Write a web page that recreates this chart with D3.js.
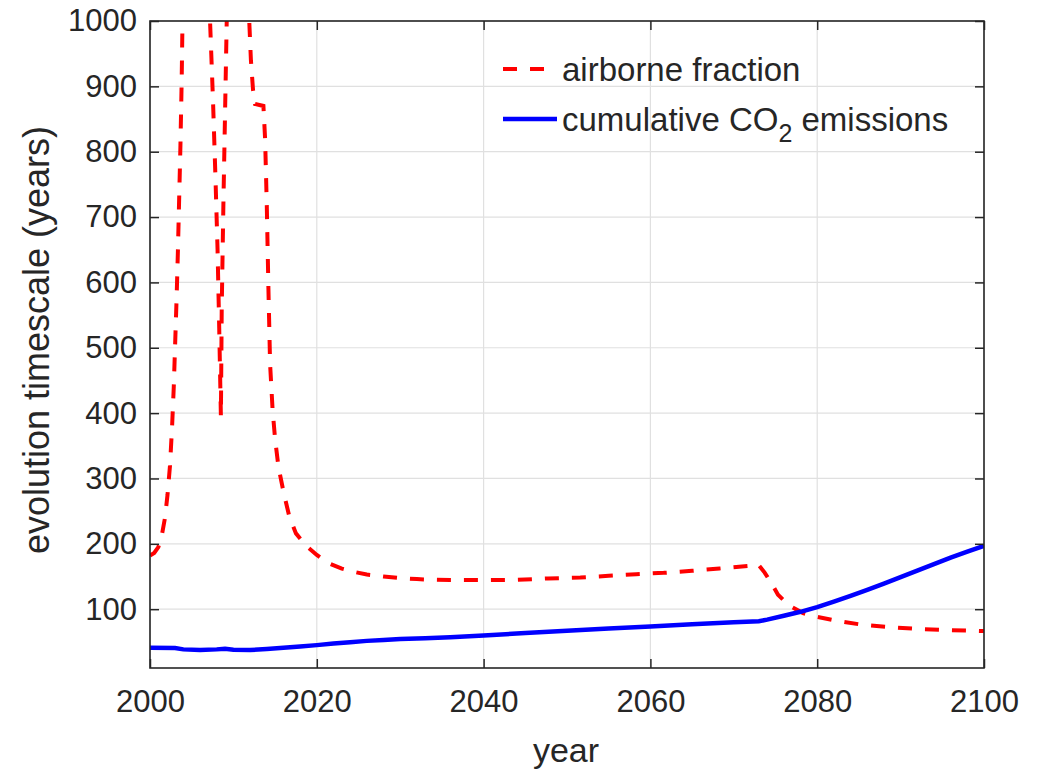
<!DOCTYPE html>
<html>
<head>
<meta charset="utf-8">
<script src="https://cdn.jsdelivr.net/npm/d3@7/dist/d3.min.js"></script>
<style>
  html, body { margin: 0; padding: 0; background: #fff; }
  svg { display: block; }
  text { font-family: "Liberation Sans", Arial, Helvetica, sans-serif; fill: #262626; }
</style>
</head>
<body>
<svg id="chart" width="1043" height="772"></svg>
<script>
// Evolution timescale of the airborne fraction (dashed) and cumulative CO2 emissions (solid)
const airborneYears = [
  2000.0, 2000.5, 2001.0, 2001.4, 2001.8, 2002.1, 2002.4, 2002.65, 2002.85, 2003.0,
  2003.2, 2003.35, 2003.5, 2003.65, 2003.8, 2003.95, 2004.3, 2005.0, 2006.0, 2006.7,
  2007.0, 2007.2, 2007.55, 2007.85, 2008.1, 2008.3, 2008.5, 2008.6, 2008.8, 2009.0,
  2009.2, 2009.4, 2010.0, 2011.0, 2011.6, 2011.9, 2012.1, 2012.35, 2012.6, 2013.6,
  2013.8, 2014.0, 2014.2, 2014.4, 2014.7, 2015.0, 2015.4, 2016.0, 2016.7, 2017.5,
  2018.8, 2020.0, 2021.3, 2023.0, 2024.5, 2026.0, 2028.0, 2030.0, 2032.0, 2034.0,
  2036.0, 2040.0, 2044.0, 2047.7, 2051.6, 2055.0, 2058.3, 2061.6, 2065.0, 2068.3,
  2071.7, 2072.9, 2073.7, 2074.5, 2075.3, 2076.7, 2078.3, 2079.7, 2082.0, 2085.5,
  2088.7, 2092.3, 2095.7, 2100.0
];
const airborneTimescale = [
  182, 186, 195, 212, 240, 275, 320, 380, 440, 500,
  580, 650, 730, 810, 910, 1050, 1500, 2500, 2500, 1500,
  1150, 1000, 880, 760, 650, 530, 395, 560, 720, 860,
  1000, 1300, 2000, 2000, 1300, 1000, 940, 895, 873, 870,
  820, 720, 590, 475, 405, 360, 318, 280, 242, 216,
  196, 183, 171, 162, 157, 153, 150, 147.5, 146, 145,
  144.5, 144.5, 145, 147, 148.5, 151, 153.6, 155.6, 158.7, 162.3,
  166.3, 169, 156, 140, 122, 105, 94, 89, 83, 76,
  72.5, 69.5, 68, 66.5
];

const emissionsYears = [
  2000, 2003, 2004, 2006, 2008, 2009, 2010, 2012, 2014, 2016,
  2018, 2020, 2022, 2024, 2026, 2028, 2030, 2033, 2036, 2040,
  2045, 2050, 2055, 2060, 2065, 2070, 2073, 2074, 2076, 2078,
  2080, 2082, 2084, 2086, 2088, 2090, 2092, 2094, 2096, 2098, 2100
];
const emissionsTimescale = [
  41, 40.5, 38.5, 37.5, 38.5, 39.5, 38, 37.5, 39, 41,
  43, 45, 47.5, 49.5, 51.5, 53, 54.5, 55.5, 57, 59.8,
  63.5, 67, 70.4, 73.5, 76.8, 80, 81.5, 84, 90, 96,
  103, 111.5, 120.5, 129.5, 139, 149, 159, 169, 179, 188, 197
];

const xTicks = [2000, 2020, 2040, 2060, 2080, 2100];
const yTicks = [100, 200, 300, 400, 500, 600, 700, 800, 900, 1000];

const margin = { left: 150, right: 984, top: 21, bottom: 668 };
const svg = d3.select("#chart");

const x = d3.scaleLinear().domain([2000, 2100]).range([margin.left, margin.right]);
const y = d3.scaleLinear().domain([10, 1000]).range([margin.bottom, margin.top]);

const axisColor = "#262626";
const gridColor = "#e0e0e0";
const tickFont = 31;

// grid
const grid = svg.append("g");
grid.selectAll("line.gx").data(xTicks).join("line")
  .attr("x1", d => x(d)).attr("x2", d => x(d))
  .attr("y1", margin.top).attr("y2", margin.bottom)
  .attr("stroke", gridColor).attr("stroke-width", 1.2);
grid.selectAll("line.gy").data(yTicks).join("line")
  .attr("x1", margin.left).attr("x2", margin.right)
  .attr("y1", d => y(d)).attr("y2", d => y(d))
  .attr("stroke", gridColor).attr("stroke-width", 1.2);

// data lines, clipped to the axes box
svg.append("clipPath").attr("id", "plotClip").append("rect")
  .attr("x", margin.left).attr("y", margin.top)
  .attr("width", margin.right - margin.left).attr("height", margin.bottom - margin.top);

const line = d3.line().x(d => x(d[0])).y(d => y(d[1]));
const plot = svg.append("g").attr("clip-path", "url(#plotClip)");

const airborne = airborneYears.map((yr, i) => [yr, airborneTimescale[i]]);
const emissions = emissionsYears.map((yr, i) => [yr, emissionsTimescale[i]]);

plot.append("path").datum(airborne)
  .attr("d", line).attr("fill", "none")
  .attr("stroke", "#ff0000").attr("stroke-width", 4)
  .attr("stroke-dasharray", "14,13");

plot.append("path").datum(emissions)
  .attr("d", line).attr("fill", "none")
  .attr("stroke", "#0000ff").attr("stroke-width", 4.5);

// axes: box with inward ticks on all four sides
const axes = svg.append("g");
const tickLen = 9;
const axBottom = axes.append("g").attr("transform", `translate(0,${margin.bottom})`)
  .call(d3.axisBottom(x).tickValues(xTicks).tickSizeInner(-tickLen).tickSizeOuter(0).tickPadding(22).tickFormat(d3.format("d")));
const axTop = axes.append("g").attr("transform", `translate(0,${margin.top})`)
  .call(d3.axisTop(x).tickValues(xTicks).tickSizeInner(-tickLen).tickSizeOuter(0).tickFormat(""));
const axLeft = axes.append("g").attr("transform", `translate(${margin.left},0)`)
  .call(d3.axisLeft(y).tickValues(yTicks).tickSizeInner(-tickLen).tickSizeOuter(0).tickPadding(13).tickFormat(d3.format("d")));
const axRight = axes.append("g").attr("transform", `translate(${margin.right},0)`)
  .call(d3.axisRight(y).tickValues(yTicks).tickSizeInner(-tickLen).tickSizeOuter(0).tickFormat(""));

[axBottom, axTop, axLeft, axRight].forEach(g => {
  g.select(".domain").remove();
  g.selectAll(".tick line").attr("stroke", axisColor).attr("stroke-width", 1.5);
  g.selectAll(".tick text")
    .attr("fill", axisColor)
    .style("font-size", tickFont + "px")
    .style("font-family", '"Liberation Sans", Arial, sans-serif');
});

axes.append("rect")
  .attr("x", margin.left).attr("y", margin.top)
  .attr("width", margin.right - margin.left).attr("height", margin.bottom - margin.top)
  .attr("fill", "none").attr("stroke", axisColor).attr("stroke-width", 1.6);

// axis labels
svg.append("text")
  .attr("x", 566).attr("y", 762)
  .attr("text-anchor", "middle").style("font-size", "34px")
  .text("year");

svg.append("text")
  .attr("transform", `translate(49,340) rotate(-90)`)
  .attr("text-anchor", "middle").style("font-size", "36px")
  .text("evolution timescale (years)");

// legend (no box)
const legend = svg.append("g");
const legendItems = [
  { color: "#ff0000", dash: "14,13", y: 69 },
  { color: "#0000ff", dash: null, y: 119 }
];
legendItems.forEach(item => {
  legend.append("line")
    .attr("x1", 503).attr("x2", 557)
    .attr("y1", item.y).attr("y2", item.y)
    .attr("stroke", item.color).attr("stroke-width", item.dash ? 4 : 4.5)
    .attr("stroke-dasharray", item.dash);
});
legend.append("text")
  .attr("x", 562).attr("y", 69 + 12)
  .style("font-size", "33px")
  .text("airborne fraction");
const t2 = legend.append("text")
  .attr("x", 562).attr("y", 119 + 12)
  .style("font-size", "33px");
t2.append("tspan").text("cumulative CO");
t2.append("tspan").attr("dy", 11).style("font-size", "25px").text("2");
t2.append("tspan").attr("dy", -11).text(" emissions");
</script>
</body>
</html>
